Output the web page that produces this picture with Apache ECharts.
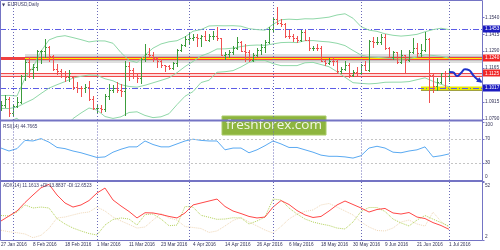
<!DOCTYPE html>
<html><head><meta charset="utf-8">
<script src="https://cdn.jsdelivr.net/npm/echarts@6/dist/echarts.min.js"></script>
<style>html,body{margin:0;padding:0;background:#fff}#c{width:500px;height:250px}</style>
</head><body><div id="c"></div>
<script>
// ---------- data ----------
const tradingDays = [
  ['Jan', [27,28,29]],
  ['Feb', [1,2,3,4,5,8,9,10,11,12,15,16,17,18,19,22,23,24,25,26,29]],
  ['Mar', [1,2,3,4,7,8,9,10,11,14,15,16,17,18,21,22,23,24,25,28,29,30,31]],
  ['Apr', [1,4,5,6,7,8,11,12,13,14,15,18,19,20,21,22,25,26,27,28,29]],
  ['May', [2,3,4,5,6,9,10,11,12,13,16,17,18,19,20,23,24,25,26,27,30,31]],
  ['Jun', [1,2,3,6,7,8,9,10,13,14,15,16,17,20,21,22,23,24,27,28,29,30]],
  ['Jul', [1]]
];
const dates = [];
tradingDays.forEach(([m, ds]) => ds.forEach(d => dates.push(d + ' ' + m + ' 2016')));
const futureSlots = ['f1','f2','f3','f4','f5','f6','f7','f8'];

// open, high, low, close
const ohlc = [
[1.0868,1.0920,1.0855,1.0895],[1.0895,1.0967,1.0880,1.0940],[1.0940,1.0950,1.0810,1.0830],
[1.0830,1.0900,1.0810,1.0887],[1.0887,1.0950,1.0875,1.0918],[1.0918,1.1115,1.0910,1.1105],
[1.1105,1.1230,1.1080,1.1210],[1.1210,1.1250,1.1100,1.1155],[1.1155,1.1195,1.1090,1.1170],
[1.1170,1.1300,1.1150,1.1290],[1.1290,1.1300,1.1200,1.1290],[1.1290,1.1376,1.1250,1.1320],
[1.1320,1.1330,1.1220,1.1255],[1.1255,1.1260,1.1150,1.1155],[1.1155,1.1195,1.1120,1.1145],
[1.1145,1.1160,1.1100,1.1125],[1.1125,1.1140,1.1070,1.1100],[1.1100,1.1150,1.1070,1.1130],
[1.1100,1.1110,1.1010,1.1025],[1.1025,1.1060,1.0990,1.1020],[1.1020,1.1030,1.0960,1.1015],
[1.1015,1.1050,1.0990,1.1025],[1.1025,1.1070,1.0930,1.0935],[1.0935,1.0960,1.0860,1.0870],
[1.0870,1.0890,1.0835,1.0872],[1.0870,1.0890,1.0840,1.0865],[1.0865,1.0970,1.0850,1.0955],
[1.0955,1.1045,1.0940,1.1005],[1.1005,1.1040,1.0985,1.1015],[1.1015,1.1060,1.0990,1.1005],
[1.1005,1.1050,1.0955,1.0995],[1.0995,1.1218,1.0822,1.1180],[1.1180,1.1210,1.1080,1.1150],
[1.1150,1.1165,1.1090,1.1105],[1.1105,1.1130,1.1060,1.1090],[1.1090,1.1240,1.1055,1.1230],
[1.1230,1.1342,1.1215,1.1270],[1.1270,1.1310,1.1250,1.1265],[1.1265,1.1280,1.1220,1.1240],
[1.1240,1.1250,1.1170,1.1220],[1.1220,1.1230,1.1170,1.1185],[1.1185,1.1190,1.1145,1.1180],
[1.1180,1.1190,1.1160,1.1165],[1.1165,1.1210,1.1160,1.1200],[1.1200,1.1305,1.1180,1.1300],
[1.1300,1.1345,1.1290,1.1335],[1.1335,1.1400,1.1325,1.1380],[1.1380,1.1425,1.1350,1.1390],
[1.1390,1.1420,1.1370,1.1392],[1.1392,1.1415,1.1330,1.1385],[1.1385,1.1410,1.1330,1.1405],
[1.1405,1.1440,1.1370,1.1375],[1.1375,1.1420,1.1365,1.1400],[1.1400,1.1440,1.1380,1.1405],
[1.1405,1.1465,1.1375,1.1385],[1.1385,1.1390,1.1260,1.1265],[1.1265,1.1285,1.1235,1.1270],
[1.1270,1.1295,1.1250,1.1285],[1.1285,1.1325,1.1270,1.1315],[1.1315,1.1395,1.1305,1.1355],
[1.1355,1.1365,1.1290,1.1290],[1.1290,1.1340,1.1215,1.1280],[1.1280,1.1300,1.1215,1.1225],
[1.1225,1.1275,1.1220,1.1265],[1.1265,1.1310,1.1255,1.1300],[1.1300,1.1340,1.1270,1.1320],
[1.1320,1.1370,1.1285,1.1355],[1.1355,1.1465,1.1350,1.1450],[1.1450,1.1535,1.1440,1.1525],
[1.1525,1.1616,1.1490,1.1500],[1.1500,1.1530,1.1475,1.1490],[1.1490,1.1495,1.1395,1.1405],
[1.1405,1.1445,1.1385,1.1402],[1.1402,1.1420,1.1365,1.1385],[1.1385,1.1400,1.1360,1.1375],
[1.1375,1.1445,1.1365,1.1430],[1.1430,1.1445,1.1370,1.1375],[1.1375,1.1395,1.1300,1.1310],
[1.1310,1.1330,1.1295,1.1315],[1.1315,1.1345,1.1295,1.1312],[1.1312,1.1330,1.1215,1.1220],
[1.1220,1.1225,1.1185,1.1200],[1.1200,1.1240,1.1195,1.1220],[1.1220,1.1245,1.1190,1.1218],
[1.1218,1.1230,1.1130,1.1140],[1.1140,1.1175,1.1130,1.1155],[1.1155,1.1215,1.1150,1.1190],
[1.1190,1.1200,1.1100,1.1115],[1.1115,1.1150,1.1110,1.1135],[1.1135,1.1170,1.1115,1.1130],
[1.1130,1.1195,1.1120,1.1185],[1.1185,1.1220,1.1150,1.1150],[1.1150,1.1375,1.1145,1.1365],
[1.1365,1.1395,1.1320,1.1355],[1.1355,1.1395,1.1345,1.1357],[1.1357,1.1415,1.1345,1.1395],
[1.1395,1.1415,1.1305,1.1310],[1.1310,1.1320,1.1245,1.1250],[1.1250,1.1290,1.1235,1.1280],
[1.1280,1.1285,1.1200,1.1210],[1.1210,1.1300,1.1200,1.1260],[1.1260,1.1265,1.1130,1.1225],
[1.1225,1.1295,1.1220,1.1280],[1.1280,1.1385,1.1275,1.1310],[1.1310,1.1350,1.1250,1.1275],
[1.1275,1.1340,1.1255,1.1300],[1.1300,1.1428,1.1290,1.1380],[1.1380,1.1385,1.0912,1.1115],
[1.1115,1.1120,1.0990,1.1030],[1.1030,1.1090,1.1000,1.1065],[1.1065,1.1130,1.1055,1.1125],
[1.1125,1.1140,1.1025,1.1105],[1.1105,1.1165,1.1070,1.1135]
];

// Bollinger bands (20,2), read every second bar
const bbUpper = [1.0962,1.0963,1.0959,1.1090,1.1171,1.1289,1.1373,1.1396,1.1404,1.1390,1.1375,1.1358,1.1366,1.1365,1.1348,1.1279,1.1222,1.1206,1.1261,1.1312,1.1343,1.1359,1.1367,1.1395,1.1437,1.1449,1.1476,1.1478,1.1477,1.1478,1.1474,1.1456,1.1449,1.1445,1.1488,1.1522,1.1526,1.1523,1.1529,1.1528,1.1534,1.1541,1.1557,1.1566,1.1533,1.1471,1.1445,1.1436,1.1418,1.1407,1.1401,1.1406,1.1414,1.1433,1.1449,1.1459,1.1449];
const bbMiddle = [1.0867,1.0866,1.0877,1.0907,1.0935,1.0977,1.1017,1.1042,1.1065,1.1091,1.1104,1.1114,1.1111,1.1086,1.1071,1.1042,1.1029,1.1024,1.1038,1.1056,1.1074,1.1093,1.1131,1.1176,1.1214,1.1254,1.1276,1.1306,1.1307,1.1312,1.1324,1.1332,1.1335,1.1333,1.1343,1.1353,1.1355,1.1353,1.1367,1.1368,1.1362,1.1358,1.1348,1.1331,1.1295,1.1261,1.1247,1.1244,1.1239,1.1234,1.1231,1.1235,1.1247,1.1263,1.1258,1.1252,1.1238];
const bbLower = [1.0772,1.0768,1.0795,1.0725,1.0698,1.0665,1.0661,1.0688,1.0726,1.0792,1.0833,1.0870,1.0855,1.0807,1.0793,1.0805,1.0837,1.0842,1.0815,1.0799,1.0805,1.0828,1.0895,1.0957,1.0991,1.1058,1.1075,1.1134,1.1138,1.1146,1.1173,1.1207,1.1222,1.1221,1.1198,1.1183,1.1183,1.1183,1.1204,1.1207,1.1191,1.1175,1.1138,1.1097,1.1057,1.1052,1.1048,1.1052,1.1060,1.1061,1.1061,1.1065,1.1079,1.1093,1.1067,1.1045,1.1027];

// RSI(14), every second bar
const rsi14 = [55,50,54,68,67,71,65,56,54,50,47,43,39,40,48,53,57,57,67,61,57,57,62,67,70,68,67,67,52,55,55,47,52,59,67,62,56,56,52,48,43,41,41,40,38,42,55,58,55,48,47,50,52,57,40,42,45];
// ADX(14), +DI, -DI, every second bar
const adx14 = [18.4,22.7,27,34.3,40.8,47,50,40.8,33.9,30.4,32.2,36,42.5,46.8,36.5,31.3,26.6,21,25.5,25.3,24,22.3,21,25.3,32.2,33.9,35.6,37.3,30.9,27,24.8,22.3,21,21.8,30.4,36,32.6,27.4,23.6,21.4,22.3,27,32.2,35.6,32.6,29.6,26.1,28.3,29.2,25.3,24.4,25.7,21.8,20.5,17,14.5,11.2];
const plusDI = [23.1,22.7,26.1,32.2,29.6,30.4,29.6,20.5,15.8,12.3,9.8,7.6,6.3,14.9,19.7,21,20.1,14.9,23.9,24.4,20.1,14.3,14.9,30.9,30.4,23.3,21.6,19.8,20.1,21.2,21,15.8,18.4,21.8,37.3,36.5,29.6,24.4,20.1,17.5,15.8,14.5,12.3,11.5,17.5,26.6,30,30,26.6,20.1,16.7,14.1,19.2,23.1,20,17,13.9];
const minusDI = [10.4,9.1,8.3,7.2,4,6,12,21,21.8,23.6,25.3,26.1,30.4,27,21.8,18.4,15.4,12.3,13.2,19.2,24.8,21,19.2,13.6,12.8,11.9,8.5,9.8,14.1,18.8,21.4,17.5,14.1,10.6,8,13.6,20.1,24.4,26.6,27.9,32.2,33.5,30.4,27,23.6,17.5,13.2,10.2,9.8,12.3,17.5,19.2,15.8,14,26,18,12.7];

// axis ticks
const priceTicks = ['1.1540','1.1415','1.1290','1.1165','1.0915','1.0790'];
const rsiTicks = ['100','70','30','0'];
const rsiLevels = [70,30];
const adxTicks = ['52','2'];
const monthStarts = [3,24,47,68,90,112];

// drawn levels
const redLevels = [1.1240,1.1125,1.1105];
const highlightLevel = 1.1240, highlightFrom = 6;
const blueLevels = [1.1453,1.1017];
const supportLevel = 1.1017, supportFrom = 105;
const boxLevels = [1.1453,1.1240,1.1125,1.1017];
// projected path
const forecast = [[112,1.1135],[113,1.1134],[114,1.1106],[115,1.1129],[116,1.1156],[117,1.1150],[118,1.1114],[119,1.1084],[120,1.1064]];

const title = 'EURUSD,Daily';
const rsiTitle = 'RSI(14) 44.7665';
const adxTitle = 'ADX(14) 11.1613 +DI:13.8837 -DI:12.6523';

// ---------- chart ----------
const cats = dates.concat(futureSlots);
const FONT = 'Liberation Sans';
const FS = 4.7;
const TXT = '#333358';
const FRAME = '#7474c4';
const PMIN = 1.07814, PMAX = 1.16603;
const every2 = arr => arr.map((v, k) => [2 * k, v]);

function axisLabels(ticks, min, max) {
  return function (params, api) {
    const v = api.value(1);
    const y = api.coord([0, v])[1];
    const cs = params.coordSys;
    const xr = 482.5;
    let va = 'middle';
    if (max !== null && v === max) va = 'top';
    if (min !== null && v === min) va = 'bottom';
    const txt = ticks[params.dataIndex];
    return {type:'group', children:[
      {type:'line', shape:{x1:xr, y1:Math.round(y)+0.5, x2:xr+2, y2:Math.round(y)+0.5}, style:{stroke:FRAME, lineWidth:1}},
      {type:'text', x:xr+2.5, y:(va==='top'? cs.y+1 : va==='bottom'? cs.y+cs.height-1 : y),
       style:{text:txt, fill:TXT, fontSize:FS, fontFamily:FONT, align:'left', verticalAlign:va}}
    ]};
  };
}

const vLines = {
  silent:true, symbol:'none', label:{show:false},
  lineStyle:{color:'#6a6ab8', type:[1,2], width:1},
  data: monthStarts.map(i => ({xAxis: i}))
};

const option = {
  animation:false,
  backgroundColor:'#ffffff',
  grid:[
    {left:-1, top:1, width:484, height:119, outerBoundsMode:'none'},
    {left:-1, top:121.5, width:484, height:59, outerBoundsMode:'none'},
    {left:-1, top:182, width:484, height:58, outerBoundsMode:'none'}
  ],
  xAxis:[0,1,2].map(g => ({
    type:'category', gridIndex:g, data:cats, boundaryGap:true,
    show: g === 2,
    axisLine:{show:false}, axisTick:{show:false}, splitLine:{show:false},
    axisLabel: g === 2 ? {
      show:true, interval:(i) => i % 8 === 0 && i < dates.length,
      align:'left', fontSize:FS, fontFamily:FONT, color:TXT, margin:2
    } : {show:false}
  })),
  yAxis:[
    {type:'value', gridIndex:0, min:PMIN, max:PMAX, show:false, splitLine:{show:false}},
    {type:'value', gridIndex:1, min:0, max:100, show:false, splitLine:{show:false}},
    {type:'value', gridIndex:2, min:2, max:52, show:false, splitLine:{show:false}}
  ],
  series:[
    {type:'custom', xAxisIndex:0, yAxisIndex:0, z:1, silent:true,
     data:[[highlightFrom, highlightLevel]], encode:{x:0, y:1},
     renderItem(params, api){
       const p = api.coord([api.value(0), api.value(1)]);
       const y = Math.round(p[1]) + 0.5;
       return {type:'group', children:[
         {type:'line', shape:{x1:p[0], y1:y, x2:482, y2:y}, style:{stroke:'rgba(90,90,90,0.2)', lineWidth:9}},
         {type:'line', shape:{x1:p[0], y1:y, x2:482, y2:y}, style:{stroke:'rgba(90,90,90,0.2)', lineWidth:5}}
       ]};
     }},
    {type:'custom', xAxisIndex:0, yAxisIndex:0, z:1, silent:true,
     data:[[0, redLevels[1], redLevels[2]]], encode:{x:0, y:[1,2]},
     renderItem(params, api){
       const a = api.coord([0, api.value(1)])[1], b = api.coord([0, api.value(2)])[1];
       return {type:'rect', shape:{x:0, y:Math.round(a)+0.5, width:482, height:Math.round(b)-Math.round(a)},
               style:{fill:'rgba(255,150,150,0.35)'}};
     }},
    {type:'custom', xAxisIndex:0, yAxisIndex:0, z:2, silent:true,
     data:redLevels.map(v => [0, v]), encode:{x:0, y:1},
     renderItem(params, api){
       const y = Math.round(api.coord([0, api.value(1)])[1]) + 0.5;
       return {type:'line', shape:{x1:0, y1:y, x2:482, y2:y}, style:{stroke:'#f04a4a', lineWidth:1}};
     }},
    {type:'custom', xAxisIndex:0, yAxisIndex:0, z:2, silent:true,
     data:[[highlightFrom, highlightLevel]], encode:{x:0, y:1},
     renderItem(params, api){
       const p = api.coord([api.value(0), api.value(1)]);
       const y = Math.round(p[1]) + 0.5;
       return {type:'group', children:[
         {type:'line', shape:{x1:0, y1:y, x2:482, y2:y}, style:{stroke:'#f04040', lineWidth:3}},
         {type:'line', shape:{x1:p[0], y1:y, x2:482, y2:y}, style:{stroke:'#ffee00', lineWidth:1}}
       ]};
     }},
    {type:'custom', xAxisIndex:0, yAxisIndex:0, z:2, silent:true,
     data:[[supportFrom, supportLevel]], encode:{x:0, y:1},
     renderItem(params, api){
       const p = api.coord([api.value(0), api.value(1)]);
       const y = Math.round(p[1]) + 0.5;
       return {type:'group', children:[
         {type:'line', shape:{x1:p[0], y1:y, x2:482, y2:y}, style:{stroke:'#e8e800', lineWidth:4}},
         {type:'line', shape:{x1:p[0], y1:y+2, x2:482, y2:y+2}, style:{stroke:'rgba(80,80,0,0.5)', lineWidth:1}}
       ]};
     }},
    {type:'custom', xAxisIndex:0, yAxisIndex:0, z:3, silent:true,
     data:blueLevels.map(v => [0, v]), encode:{x:0, y:1},
     renderItem(params, api){
       const y = Math.round(api.coord([0, api.value(1)])[1]) + 0.5;
       return {type:'line', shape:{x1:0, y1:y, x2:482, y2:y}, style:{stroke:'#5c5ce6', lineWidth:1, lineDash:[6,2,1,2]}};
     }},
    {type:'line', xAxisIndex:0, yAxisIndex:0, z:3, data:every2(bbUpper), symbol:'none', silent:true, clip:true,
     lineStyle:{color:'#90d8a8', width:1}, markLine:vLines},
    {type:'line', xAxisIndex:0, yAxisIndex:0, z:3, data:every2(bbMiddle), symbol:'none', silent:true, clip:true,
     lineStyle:{color:'#90d8a8', width:1}},
    {type:'line', xAxisIndex:0, yAxisIndex:0, z:3, data:every2(bbLower), symbol:'none', silent:true, clip:true,
     lineStyle:{color:'#90d8a8', width:1}},
    {type:'custom', xAxisIndex:0, yAxisIndex:0, z:4, silent:true,
     data:ohlc.map((r, i) => [i, r[0], r[1], r[2], r[3]]), encode:{x:0, y:[1,2,3,4]},
     renderItem(params, api){
       const i = api.value(0);
       const o = api.value(1), h = api.value(2), l = api.value(3), c = api.value(4);
       const po = api.coord([i, o]), ph = api.coord([i, h]), pl = api.coord([i, l]), pc = api.coord([i, c]);
       const col = Math.floor(po[0]);
       const x = col + 0.5;
       const color = c >= o ? '#3c9c3c' : '#f05050';
       const yo = Math.round(po[1]) + 0.5, yc = Math.round(pc[1]) + 0.5;
       const st = {stroke:color, lineWidth:1};
       return {type:'group', children:[
         {type:'line', shape:{x1:x, y1:Math.round(ph[1]), x2:x, y2:Math.round(pl[1])+1}, style:st},
         {type:'line', shape:{x1:col-1, y1:yo, x2:col, y2:yo}, style:st},
         {type:'line', shape:{x1:col+1, y1:yc, x2:col+2, y2:yc}, style:st}
       ]};
     }},
    {type:'line', xAxisIndex:0, yAxisIndex:0, z:5, data:forecast, symbol:'none', smooth:0.5, silent:true, clip:false,
     lineStyle:{color:'#1f33cc', width:2}},
    {type:'custom', xAxisIndex:0, yAxisIndex:0, z:5, silent:true,
     data:[forecast[forecast.length - 1]], encode:{x:0, y:1},
     renderItem(params, api){
       const tip = api.coord([api.value(0), api.value(1)]);
       const prev = api.coord(forecast[forecast.length - 2]);
       const dx = tip[0] - prev[0], dy = tip[1] - prev[1];
       const len = Math.sqrt(dx*dx + dy*dy) || 1;
       const ux = dx/len, uy = dy/len;
       const s = 4;
       return {type:'polygon', shape:{points:[
         [tip[0] + ux*2, tip[1] + uy*2],
         [tip[0] - ux*s + uy*s*0.7, tip[1] - uy*s - ux*s*0.7],
         [tip[0] - ux*s - uy*s*0.7, tip[1] - uy*s + ux*s*0.7]
       ]}, style:{fill:'#1f33cc'}};
     }},
    {type:'custom', xAxisIndex:0, yAxisIndex:0, z:8, silent:true, clip:false,
     data:boxLevels.map(v => [0, v]), encode:{x:0, y:1},
     renderItem(params, api){
       const v = api.value(1);
       const y = api.coord([0, v])[1];
       const fill = redLevels.indexOf(v) >= 0 ? '#f02828' : '#1c1cc0';
       return {type:'group', children:[
         {type:'rect', shape:{x:483, y:Math.round(y)-3.5, width:17, height:7}, style:{fill:fill}},
         {type:'text', x:485, y:y, style:{text:v.toFixed(4), fill:'#ffffff', fontSize:FS, fontFamily:FONT, align:'left', verticalAlign:'middle'}}
       ]};
     }},
    {type:'custom', xAxisIndex:0, yAxisIndex:0, z:7, silent:true, clip:false,
     data:priceTicks.map(v => [0, Number(v)]), encode:{x:0, y:1},
     renderItem: axisLabels(priceTicks, null, null)},
    {type:'line', xAxisIndex:1, yAxisIndex:1, z:3, data:every2(rsi14), symbol:'none', silent:true,
     lineStyle:{color:'#5aaaf2', width:1},
     markLine:{silent:true, symbol:'none', label:{show:false},
       data: rsiLevels.map(v => ({yAxis:v, lineStyle:{color:'#c4c4c4', type:[2,2], width:1}}))
         .concat(monthStarts.map(i => ({xAxis:i, lineStyle:{color:'#6a6ab8', type:[1,2], width:1}})))}},
    {type:'custom', xAxisIndex:1, yAxisIndex:1, z:7, silent:true, clip:false,
     data:rsiTicks.map(v => [0, Number(v)]), encode:{x:0, y:1},
     renderItem: axisLabels(rsiTicks, 0, 100)},
    {type:'line', xAxisIndex:2, yAxisIndex:2, z:3, data:every2(minusDI), symbol:'none', silent:true,
     lineStyle:{color:'#f0d8b8', width:1, type:[1,1]}},
    {type:'line', xAxisIndex:2, yAxisIndex:2, z:3, data:every2(plusDI), symbol:'none', silent:true,
     lineStyle:{color:'#b4d25a', width:1, type:[1,1]}},
    {type:'line', xAxisIndex:2, yAxisIndex:2, z:4, data:every2(adx14), symbol:'none', silent:true,
     lineStyle:{color:'#ff4848', width:1}, markLine:vLines},
    {type:'custom', xAxisIndex:2, yAxisIndex:2, z:7, silent:true, clip:false,
     data:adxTicks.map(v => [0, Number(v)]), encode:{x:0, y:1},
     renderItem: axisLabels(adxTicks, 2, 52)}
  ],
  graphic:[
    {type:'rect', z:50, silent:true, shape:{x:0.5, y:0.5, width:482, height:240}, style:{fill:null, stroke:FRAME, lineWidth:1}},
    {type:'rect', z:50, silent:true, shape:{x:0, y:119.5, width:483, height:2}, style:{fill:FRAME}},
    {type:'rect', z:50, silent:true, shape:{x:0, y:180, width:483, height:2}, style:{fill:FRAME}},
    {type:'text', z:50, silent:true, x:2, y:5, style:{text:'\u25BC', fill:'#3a3a66', fontSize:4, fontFamily:'DejaVu Sans', align:'left', verticalAlign:'middle'}},
    {type:'text', z:50, silent:true, x:7.5, y:5, style:{text:title, fill:'#3a3a66', fontSize:FS, fontFamily:FONT, align:'left', verticalAlign:'middle'}},
    {type:'text', z:50, silent:true, x:3, y:127, style:{text:rsiTitle, fill:'#3a3a66', fontSize:FS, fontFamily:FONT, align:'left', verticalAlign:'middle'}},
    {type:'text', z:50, silent:true, x:3, y:185.5, style:{text:adxTitle, fill:'#3a3a66', fontSize:FS, fontFamily:FONT, align:'left', verticalAlign:'middle'}},
    {type:'group', z:60, silent:true, x:222, y:116, children:[
      {type:'rect', shape:{x:0, y:0, width:104, height:19}, style:{fill:'#8db53e', stroke:'#a8ca66', lineWidth:1}},
      {type:'text', x:52, y:9.5, style:{text:'freshforex.com', fill:'#f2f7e6', fontSize:13.5, fontFamily:'Open Sans', align:'center', verticalAlign:'middle'}}
    ]}
  ]
};

const chart = echarts.init(document.getElementById('c'), null, {renderer:'canvas', devicePixelRatio:1});
chart.setOption(option);
</script>
</body></html>
